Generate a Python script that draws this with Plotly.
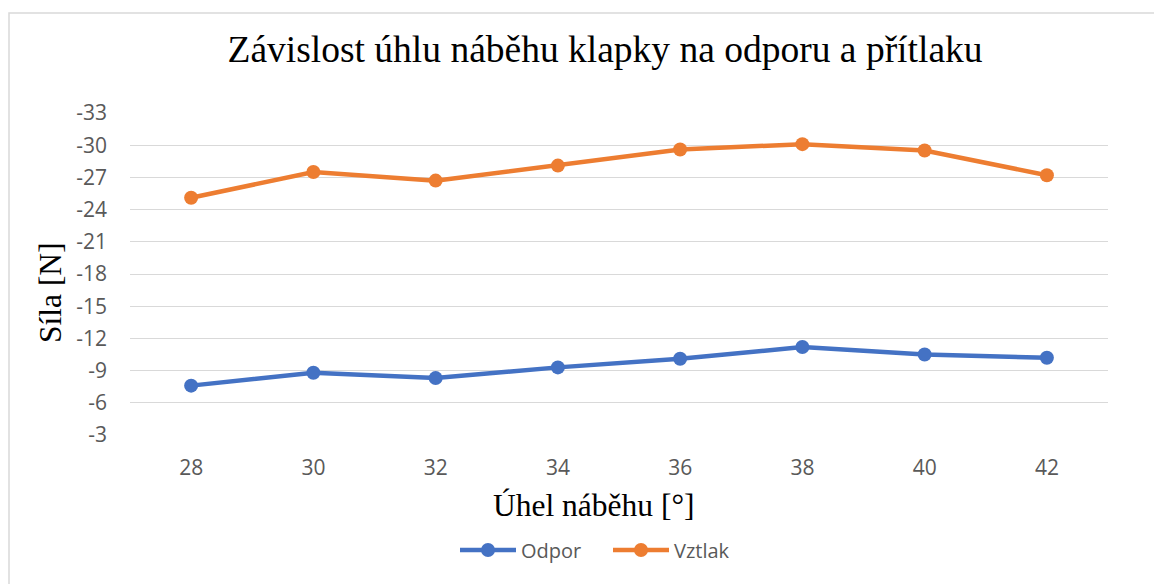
import plotly.graph_objects as go

angles = ["28", "30", "32", "34", "36", "38", "40", "42"]
odpor = [-7.6, -8.8, -8.3, -9.3, -10.1, -11.2, -10.5, -10.2]
vztlak = [-25.1, -27.5, -26.7, -28.1, -29.6, -30.1, -29.5, -27.2]
y_ticks = [-3, -6, -9, -12, -15, -18, -21, -24, -27, -30, -33]

W, H = 1154, 584
L, R, T, B = 130, 46, 113, 149
pw, ph = W - L - R, H - T - B

fig = go.Figure()
fig.add_trace(go.Scatter(x=angles, y=odpor, name="Odpor", mode="lines+markers",
                         line=dict(color="#4472C4", width=4.5),
                         marker=dict(size=14, color="#4472C4")))
fig.add_trace(go.Scatter(x=angles, y=vztlak, name="Vztlak", mode="lines+markers",
                         line=dict(color="#ED7D31", width=4.5),
                         marker=dict(size=14, color="#ED7D31")))

def px_x(p):
    return (p - L) / pw

def px_y(p):
    return (H - B - p) / ph

tickfont = dict(family="Open Sans", size=21, color="#595959")

fig.update_layout(
    width=W, height=H,
    margin=dict(l=L, r=R, t=T, b=B),
    plot_bgcolor="white", paper_bgcolor="white",
    title=dict(text="Závislost úhlu náběhu klapky na odporu a přítlaku",
               font=dict(family="Liberation Serif", size=37.5, color="#000000"),
               x=605 / W, xref="container", xanchor="center",
               y=1 - 49 / H, yref="container", yanchor="middle"),
    xaxis=dict(type="category", range=[-0.5, 7.5], showgrid=False, zeroline=False,
               showline=False, ticks="", tickfont=tickfont, ticklabelstandoff=18),
    yaxis=dict(range=[-3, -33], tickvals=y_ticks, ticktext=[str(v) for v in y_ticks],
               showgrid=True, gridcolor="#d9d9d9", gridwidth=1.3, zeroline=False,
               showline=False, ticks="", tickfont=tickfont, ticklabelstandoff=22),
    showlegend=True,
    legend=dict(orientation="h", x=608 / W, xref="container", xanchor="center",
                y=1 - 550 / H, yref="container", yanchor="middle",
                font=dict(family="Open Sans", size=20, color="#595959"),
                itemwidth=56, entrywidth=82, entrywidthmode="pixels", tracegroupgap=0),
    annotations=[
        dict(text="Úhel náběhu [°]", x=px_x(594), y=px_y(505), xref="paper", yref="paper",
             showarrow=False, xanchor="center", yanchor="middle",
             font=dict(family="Liberation Serif", size=31.5, color="#000000")),
        dict(text="Síla [N]", x=px_x(50), y=px_y(293), xref="paper", yref="paper",
             showarrow=False, xanchor="center", yanchor="middle", textangle=-90,
             font=dict(family="Liberation Serif", size=31.5, color="#000000")),
    ],
    shapes=[
        dict(type="rect", xref="paper", yref="paper",
             x0=px_x(9), x1=px_x(1170), y0=px_y(600), y1=px_y(13),
             line=dict(color="#d9d9d9", width=1.5), fillcolor="rgba(0,0,0,0)", layer="below"),
    ],
)

fig.write_html("out.html", config={"displayModeBar": False},
               post_script="document.body.style.margin='0';document.body.style.padding='0';")
